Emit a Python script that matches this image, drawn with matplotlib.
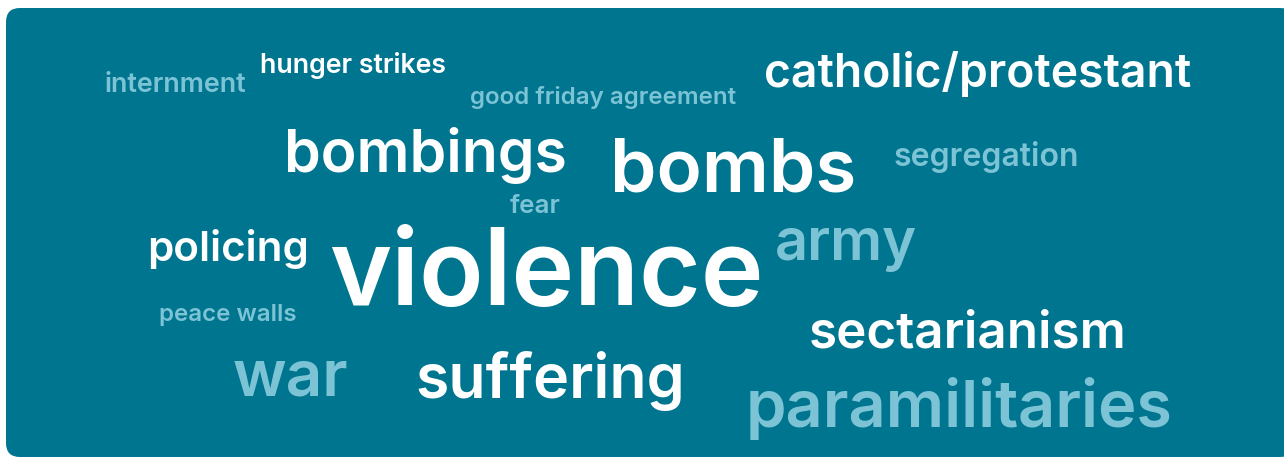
import matplotlib
matplotlib.use("Agg")
import matplotlib.pyplot as plt
from matplotlib.patches import FancyBboxPatch

# word cloud data: words, colour group (0 = white, 1 = light)
words = ["internment", "hunger strikes", "good friday agreement",
         "catholic/protestant", "bombings", "bombs", "segregation", "fear",
         "policing", "violence", "army", "peace walls", "sectarianism",
         "war", "suffering", "paramilitaries"]
groups = [1, 0, 1, 0, 0, 0, 1, 1, 0, 0, 1, 1, 0, 1, 0, 1]

# layout: left x, baseline y, target width (pixels)
lefts = [105, 261, 472, 767, 286, 611, 895, 510, 148, 333, 776, 160, 811, 233, 417, 748]
bases = [92, 73, 104, 87, 172, 192, 166, 213, 261, 305, 260, 321, 347, 395, 398, 427]
widths = [140, 184, 263, 421, 279, 243, 183, 50, 160, 430, 140, 136, 313, 114, 266, 421]

BG = "#00758f"
COLORS = ["#ffffff", "#7cc4d5"]

W, H = 1284, 458
fig = plt.figure(figsize=(W / 100, H / 100), dpi=100)
ax = fig.add_axes([0, 0, 1, 1])
ax.set_xlim(0, W)
ax.set_ylim(H, 0)
ax.axis("off")

# rounded panel
panel = FancyBboxPatch((6 + 14, 8 + 14), 1300 - 40, 449 - 28,
                       boxstyle="round,pad=14", fc=BG, ec="none")
ax.add_patch(panel)

renderer = fig.canvas.get_renderer()
for w, g, x, y, tw in zip(words, groups, lefts, bases, widths):
    t = ax.text(x, y, w, color=COLORS[g], fontsize=20, family="Inter",
                weight="semibold", ha="left", va="baseline")
    bb = t.get_window_extent(renderer)
    # extent includes side bearings, so aim a little wider
    scale = 1.015 * tw / bb.width
    t.set_fontsize(20 * scale)
    t.set_x(x - 0.006 * tw)

fig.savefig("out.png", dpi=100)
